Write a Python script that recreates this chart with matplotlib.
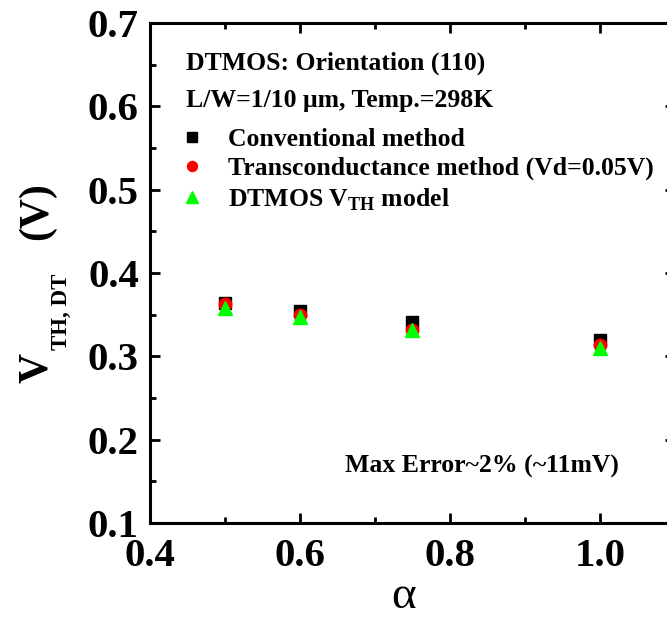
import numpy as np
import matplotlib.pyplot as plt

alpha = [0.5, 0.6, 0.75, 1.0]
vth_conv = [0.364, 0.354, 0.341, 0.320]
vth_gm = [0.363, 0.349, 0.332, 0.313]
vth_model = [0.358, 0.347, 0.331, 0.310]

plt.rcParams['font.family'] = ['Liberation Serif', 'DejaVu Serif']
plt.rcParams['mathtext.fontset'] = 'custom'
plt.rcParams['mathtext.rm'] = 'Liberation Serif'
plt.rcParams['mathtext.bf'] = 'Liberation Serif:bold'

W, H = 667, 619
fig = plt.figure(figsize=(W/100, H/100), dpi=100)
ax = fig.add_axes([150/W, 1-523/H, 525/W, 500/H])

ax.plot(alpha, vth_conv, 's', color='black', ms=9, label='Conventional method')
ax.plot(alpha, vth_gm, 'o', color='red', ms=9, label='Transconductance method (Vd=0.05V)')
ax.plot(alpha, vth_model, '^', color='#00ff00', ms=10.5, label='DTMOS V$_{\\mathbf{TH}}$ model')

ax.set_xlim(0.4, 1.1)
ax.set_ylim(0.1, 0.7)
ax.set_xticks([0.4, 0.6, 0.8, 1.0])
ax.set_xticks(np.arange(0.5, 1.1, 0.2), minor=True)
ax.set_yticks(np.arange(0.1, 0.71, 0.1))
ax.set_yticks(np.arange(0.15, 0.7, 0.1), minor=True)
ax.xaxis.set_major_formatter(plt.FormatStrFormatter('%.1f'))
ax.yaxis.set_major_formatter(plt.FormatStrFormatter('%.1f'))

for s in ax.spines.values():
    s.set_linewidth(2.2)
ax.tick_params(which='both', direction='in', top=True, right=True, width=2)
ax.tick_params(which='major', length=7, labelsize=29.5)
ax.tick_params(axis='x', which='major', pad=11)
ax.tick_params(axis='y', which='major', pad=8)
ax.tick_params(which='minor', length=4)
for lab in ax.get_xticklabels() + ax.get_yticklabels():
    lab.set_fontweight('bold')

ax.set_xlabel('α', fontsize=34, labelpad=0)
ax.xaxis.label.set_x(0.484)

# y label: V with small subscript, built from pieces
kw = dict(rotation=90, rotation_mode='anchor', ha='left', va='baseline',
          fontweight='bold')
fig.text(47/W, 1-383/H, 'V', fontsize=30, **kw)
fig.text(67/W, 1-350/H, 'TH, DT', fontsize=16.5, **kw)
fig.text(47/W, 1-240/H, '(V)', fontsize=30, **kw)

ax.text(0.0686, 0.92, 'DTMOS: Orientation (110)', transform=ax.transAxes,
        fontsize=18.5, fontweight='bold', va='center')
ax.text(0.0686, 0.846, 'L/W=1/10 μm, Temp.=298K', transform=ax.transAxes,
        fontsize=18.5, fontweight='bold', va='center')
ax.legend(loc='upper left', bbox_to_anchor=(0.055, 0.79), frameon=False,
          prop={'size': 18.5, 'weight': 'bold'}, handletextpad=0.9,
          labelspacing=0.23, borderaxespad=0, borderpad=0,
          handlelength=1.0, markerscale=0.8)

ax.text(0.371, 0.114, 'Max Error~2% (~11mV)', transform=ax.transAxes,
        fontsize=18.5, fontweight='bold', va='center')

fig.savefig('out.png', dpi=100)
